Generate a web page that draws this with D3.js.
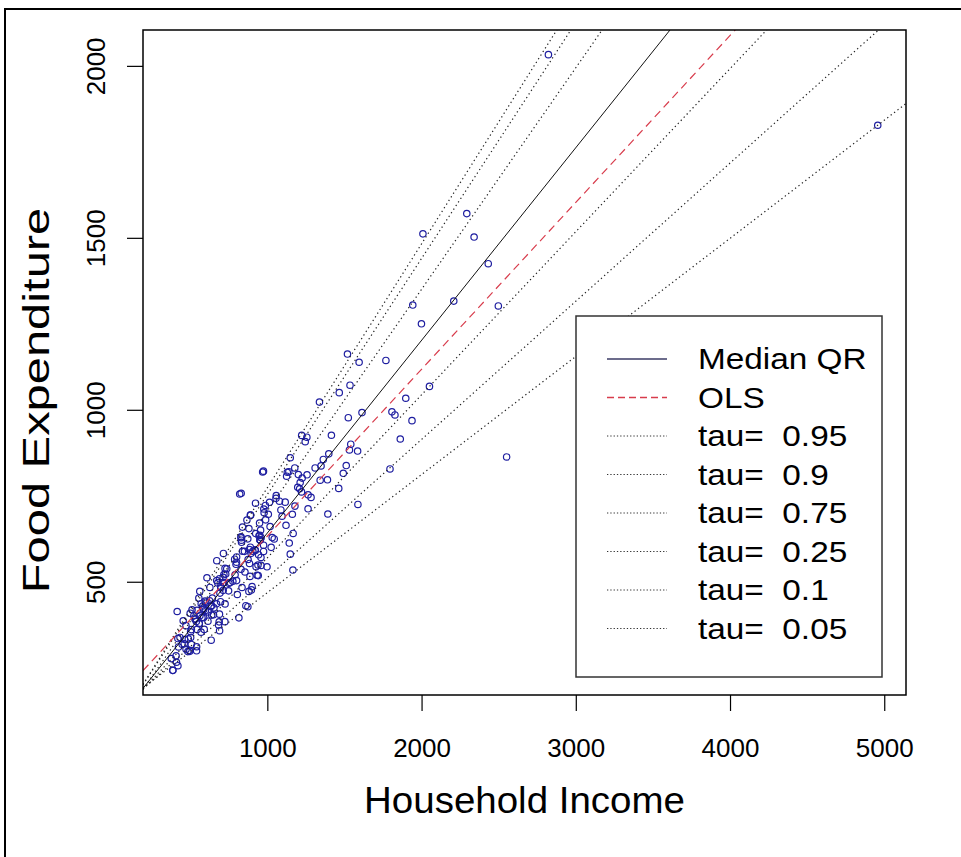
<!DOCTYPE html>
<head>
  <meta charset="utf-8">
  <script src="https://d3js.org/d3.v7.min.js"></script>
  <style>
    body {
      margin: 0;
      background: #fff;
      font-family: "Liberation Sans", Arial, sans-serif;
    }
    svg text {
      fill: #000;
      white-space: pre;
    }
  </style>
</head>

<body>
  <div id="chart"></div>

  <script>
    // household income (x) and food expenditure (y), one entry per household
    var income = [
      420.16, 541.41, 901.16, 639.08, 750.88, 945.80, 829.40, 979.16, 1309.88, 1492.40,
      502.84, 616.72, 790.92, 555.88, 713.44, 838.76, 535.08, 596.44, 924.56, 487.76,
      692.64, 997.88, 507.00, 654.16, 933.92, 433.68, 587.60, 896.47, 454.48, 585.00,
      800.80, 502.44, 713.52, 906.00, 880.60, 796.83, 854.88, 1167.37, 523.80, 670.78,
      377.06, 851.54, 1121.09, 625.52, 805.54, 558.58, 884.40, 1257.50, 2051.18, 1466.33,
      730.10, 2432.39, 940.92, 1177.85, 1222.59, 1519.58, 687.66, 953.12, 953.12, 953.12,
      939.04, 1283.40, 1511.58, 1342.58, 511.80, 689.80, 1532.31, 1056.08, 387.32, 387.32,
      411.00, 499.75, 832.76, 615.00, 887.47, 1595.16, 1807.95, 541.20, 1057.68, 800.80,
      1245.70, 1201.00, 634.40, 956.23, 1148.60, 1768.82, 2822.53, 922.35, 2293.19, 627.47,
      889.98, 1162.20, 1197.08, 530.80, 1142.15, 1088.00, 484.66, 1536.02, 678.90, 671.88,
      690.47, 860.69, 873.31, 894.46, 1148.65, 926.88, 839.04, 829.50, 1264.00, 1937.98,
      698.83, 920.42, 1897.57, 891.68, 889.68, 1221.48, 544.60, 1031.45, 1462.95, 830.44,
      975.04, 1338.00, 867.64, 725.75, 989.01, 1525.00, 672.20, 923.40, 472.32, 590.76,
      831.80, 1139.49, 507.52, 576.20, 696.60, 650.82, 949.58, 497.12, 570.17, 724.73,
      408.34, 638.67, 1225.79, 715.37, 800.47, 975.60, 1613.76, 608.50, 958.66, 835.94,
      1024.82, 1006.44, 726.00, 494.42, 776.60, 415.44, 581.36, 643.36, 2551.66, 1795.32,
      1165.77, 815.62, 1264.21, 1095.41, 447.45, 1178.97, 975.80, 1017.85, 423.88, 558.78,
      943.25, 1348.30, 2340.62, 587.18, 1540.97, 1115.85, 1044.68, 1389.79, 2497.79, 1585.38,
      1862.04, 2008.85, 697.31, 571.25, 598.35, 461.10, 977.11, 883.98, 718.36, 543.90,
      1587.35, 4957.81, 969.68, 420.00, 562.00, 689.60, 1398.52, 820.82, 875.17, 1392.45,
      1256.32, 1362.86, 1999.26, 1209.47, 1125.04, 1827.40, 1014.15, 880.39, 873.74, 951.44,
      473.00, 601.00, 714.00, 829.30, 959.80, 1212.96, 958.87, 1129.44, 1943.04, 539.64,
      463.60, 562.64, 736.76, 1415.45, 2208.79, 636.00, 759.40, 1078.84, 748.64, 987.64,
      788.10, 683.88
    ];
    var foodexp = [
      255.84, 310.96, 485.68, 403.00, 495.56, 633.80, 630.76, 700.44, 830.96, 815.36,
      338.00, 412.36, 520.00, 452.40, 512.72, 658.84, 392.60, 443.56, 640.12, 333.84,
      466.96, 543.40, 317.72, 424.32, 518.96, 338.00, 419.64, 476.32, 386.36, 423.28,
      503.36, 354.64, 497.32, 588.52, 654.60, 550.73, 528.38, 640.48, 401.32, 436.00,
      276.56, 588.35, 664.20, 444.86, 462.90, 377.78, 553.15, 810.90, 1067.95, 1049.88,
      522.70, 1424.80, 517.92, 830.96, 925.58, 1162.00, 383.46, 621.12, 621.12, 621.12,
      548.60, 745.24, 837.80, 795.34, 418.60, 508.80, 883.28, 742.53, 242.32, 242.32,
      266.00, 408.50, 614.76, 385.32, 515.62, 1138.16, 993.96, 299.20, 750.32, 572.08,
      907.40, 811.58, 427.80, 650.00, 860.60, 1143.42, 2032.68, 590.62, 1570.39, 483.48,
      600.48, 696.20, 774.80, 390.60, 612.56, 708.76, 296.92, 1071.46, 496.60, 503.40,
      357.64, 430.34, 624.70, 582.54, 580.22, 543.88, 588.64, 628.00, 712.10, 968.39,
      482.58, 593.17, 1033.57, 693.68, 693.68, 761.28, 361.40, 628.45, 771.45, 757.12,
      821.60, 1022.32, 679.44, 538.75, 680.00, 977.00, 561.20, 728.40, 372.32, 361.52,
      620.80, 820.00, 360.88, 395.76, 442.00, 404.04, 670.80, 297.57, 353.49, 383.94,
      284.80, 431.10, 801.35, 582.28, 556.64, 588.13, 991.89, 511.58, 570.60, 483.23,
      600.00, 696.20, 435.60, 300.68, 501.34, 413.55, 429.33, 452.30, 862.80, 828.00,
      534.00, 395.00, 752.70, 690.40, 318.10, 720.00, 606.30, 660.50, 310.40, 379.50,
      578.60, 836.80, 1502.30, 395.80, 900.00, 731.40, 624.50, 796.50, 1302.00, 880.00,
      915.00, 1511.50, 486.90, 436.20, 416.60, 319.80, 711.50, 593.30, 520.80, 416.70,
      724.80, 1827.40, 819.00, 334.90, 472.30, 405.80, 871.90, 755.00, 564.70, 697.00,
      920.30, 855.60, 1250.00, 770.30, 806.90, 985.00, 731.00, 471.90, 427.50, 635.00,
      303.80, 440.60, 475.00, 536.40, 628.10, 788.40, 547.50, 818.20, 1304.60, 384.70,
      332.20, 401.00, 537.50, 926.00, 1316.00, 330.00, 497.60, 734.20, 473.60, 721.90,
      565.50, 374.00
    ];

    // fitted lines: intercept + slope * income
    var taus = [0.95, 0.9, 0.75, 0.25, 0.1, 0.05];
    var tauIntercepts = [64.10, 67.35, 62.40, 95.48, 110.14, 124.88];
    var tauSlopes = [0.7092, 0.6863, 0.6440, 0.4741, 0.4018, 0.3434];
    var medianFit = [81.48, 0.5602];
    var olsFit = [147.48, 0.4852];

    var xTicks = [1000, 2000, 3000, 4000, 5000];
    var yTicks = [500, 1000, 1500, 2000];
    var legendLabels = ["Median QR", "OLS"].concat(taus.map(function(t) { return "tau=  " + t; }));

    var W = 961, H = 857;
    var plotL = 143, plotR = 906, plotT = 30, plotB = 695;
    var font = "'Liberation Sans', Arial, sans-serif";

    // R-style 4% axis padding
    function pad(ext) {
      var d = (ext[1] - ext[0]) * 0.04;
      return [ext[0] - d, ext[1] + d];
    }

    var x = d3.scaleLinear().domain(pad(d3.extent(income))).range([plotL, plotR]);
    var y = d3.scaleLinear().domain(pad(d3.extent(foodexp))).range([plotB, plotT]);

    var svg = d3.select("#chart").append("svg")
      .attr("width", W)
      .attr("height", H);

    function stretch(sel, k) {
      sel.each(function() {
        var w = this.getComputedTextLength();
        d3.select(this).attr("textLength", w * k).attr("lengthAdjust", "spacingAndGlyphs");
      });
    }

    // outer frame (top and left edges show in the picture)
    svg.append("line").attr("x1", 5).attr("x2", W).attr("y1", 9).attr("y2", 9)
      .attr("stroke", "#000").attr("stroke-width", 2);
    svg.append("line").attr("x1", 5).attr("x2", 5).attr("y1", 8).attr("y2", H)
      .attr("stroke", "#000").attr("stroke-width", 2);

    svg.append("clipPath").attr("id", "clip")
      .append("rect")
      .attr("x", plotL).attr("y", plotT)
      .attr("width", plotR - plotL).attr("height", plotB - plotT);

    var plot = svg.append("g").attr("clip-path", "url(#clip)");

    // points
    plot.selectAll("circle")
        .data(income)
      .enter().append("circle")
        .attr("cx", function(d) { return x(d); })
        .attr("cy", function(d, i) { return y(foodexp[i]); })
        .attr("r", 3.2)
        .attr("fill", "none")
        .attr("stroke", "#1e1ea0")
        .attr("stroke-width", 1.2);

    function abline(fit, color, dash, widthPx) {
      var xs = x.domain();
      plot.append("line")
        .attr("x1", x(xs[0])).attr("y1", y(fit[0] + fit[1] * xs[0]))
        .attr("x2", x(xs[1])).attr("y2", y(fit[0] + fit[1] * xs[1]))
        .attr("stroke", color)
        .attr("stroke-width", widthPx)
        .attr("stroke-dasharray", dash);
    }

    taus.forEach(function(t, i) {
      abline([tauIntercepts[i], tauSlopes[i]], "#222", "1.3,3", 1.2);
    });
    abline(medianFit, "#111", null, 1);
    abline(olsFit, "#d83c4c", "8,5", 1.2);

    // plot box
    svg.append("rect")
      .attr("x", plotL).attr("y", plotT)
      .attr("width", plotR - plotL).attr("height", plotB - plotT)
      .attr("fill", "none").attr("stroke", "#000").attr("stroke-width", 1.5);

    // axes
    var xAxis = svg.append("g")
      .attr("transform", "translate(0," + plotB + ")")
      .call(d3.axisBottom(x).tickValues(xTicks).tickSize(16).tickFormat(d3.format("d")));
    var yAxis = svg.append("g")
      .attr("transform", "translate(" + plotL + ",0)")
      .call(d3.axisLeft(y).tickValues(yTicks).tickSize(16).tickFormat(d3.format("d")));
    [xAxis, yAxis].forEach(function(a) {
      a.select(".domain").remove();
      a.selectAll(".tick line").attr("stroke", "#000").attr("stroke-width", 1.2);
      a.selectAll("text").attr("font-family", font).attr("font-size", 26).attr("fill", "#000");
    });
    xAxis.selectAll("text").attr("dy", null).attr("y", 62);
    yAxis.selectAll("text")
      .attr("x", null).attr("dy", null)
      .attr("text-anchor", "middle")
      .attr("transform", "translate(-38,0) rotate(-90)");

    // axis titles
    svg.append("text")
      .attr("x", (plotL + plotR) / 2)
      .attr("y", 813)
      .attr("text-anchor", "middle")
      .attr("font-family", font)
      .attr("font-size", 37)
      .text("Household Income")
      .call(stretch, 1.04);

    svg.append("text")
      .attr("transform", "translate(49," + ((plotT + plotB) / 2 + 38) + ") rotate(-90)")
      .attr("text-anchor", "middle")
      .attr("font-family", font)
      .attr("font-size", 37)
      .text("Food Expenditure")
      .call(stretch, 1.32);

    // legend
    var legL = 576, legR = 882, legT = 316, legB = 677;
    var rowY = d3.scalePoint().domain(legendLabels).range([369, 638.5]);
    svg.append("rect")
      .attr("x", legL).attr("y", legT)
      .attr("width", legR - legL).attr("height", legB - legT)
      .attr("fill", "#fff").attr("stroke", "#333").attr("stroke-width", 1.5);

    var rows = svg.selectAll("g.leg")
        .data(legendLabels)
      .enter().append("g")
        .attr("class", "leg")
        .attr("transform", function(d) { return "translate(0," + rowY(d) + ")"; });
    rows.append("line")
      .attr("x1", 607).attr("x2", 667)
      .attr("y1", -10).attr("y2", -10)
      .attr("stroke", function(d, i) { return i == 0 ? "#3b3b66" : i == 1 ? "#d83c4c" : "#333"; })
      .attr("stroke-width", function(d, i) { return i < 2 ? 1.3 : 1; })
      .attr("stroke-dasharray", function(d, i) { return i == 0 ? null : i == 1 ? "7,4" : "1.3,2"; });
    rows.append("text")
      .attr("x", 698)
      .attr("font-family", font)
      .attr("font-size", 29.5)
      .text(function(d) { return d; })
      .call(stretch, 1.13);
  </script>
</body>
